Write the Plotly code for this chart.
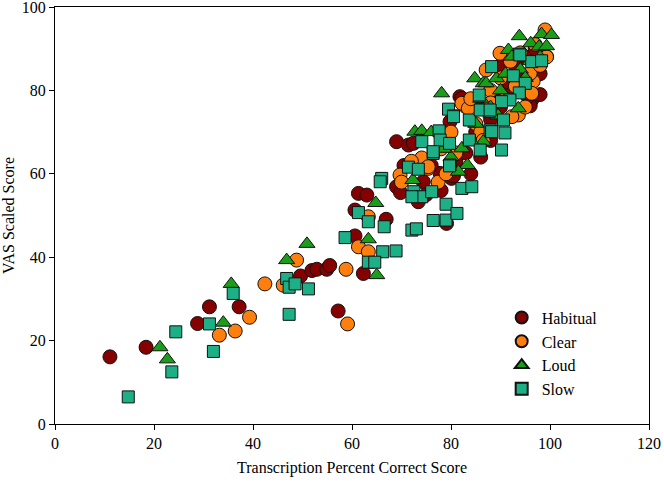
import plotly.graph_objects as go

# Habitual
hab_x = [11.1, 18.4, 28.8, 31.2, 37.2, 49.6, 51.9, 52.9, 54.9, 57.2, 55.5, 60.6, 62.3, 61.3, 63.0, 60.6,
         66.9, 69.0, 69.8, 74.4, 73.4, 77.8, 80.1, 79.1, 81.8, 82.5, 79.8, 69.0, 71.4, 72.4, 82.2, 83.2,
         96.3, 96.0, 99.3, 85.0, 88.0, 90.0, 84.0, 86.0, 92.0, 94.0, 95.0, 97.0, 91.0, 88.0, 76.0, 78.0,
         75.0, 70.5, 81.0, 83.0, 86.0, 89.0, 93.0, 98.0, 98.0, 90.0, 80.5, 95.5]
hab_y = [16.1, 18.4, 24.1, 28.1, 28.1, 35.5, 36.8, 37.1, 37.1, 27.1, 38.0, 45.1, 36.1, 55.3, 54.9, 51.3,
         49.1, 56.9, 55.5, 58.1, 53.3, 60.1, 58.9, 48.1, 78.5, 77.3, 72.5, 67.7, 66.9, 67.3, 78.1, 76.5,
         77.7, 76.3, 88.1, 70.0, 73.0, 76.0, 60.0, 64.0, 80.0, 84.0, 88.0, 90.0, 82.0, 68.0, 62.0, 56.0,
         55.0, 62.0, 63.0, 65.0, 76.0, 79.0, 86.0, 84.0, 79.0, 86.0, 59.5, 78.5]

# Clear
clr_x = [33.2, 36.4, 39.3, 42.4, 46.1, 48.8, 58.8, 59.1, 63.3, 61.3, 63.3, 69.7, 75.4, 77.4, 74.1, 75.4,
         83.0, 87.1, 99.0, 89.9, 96.6, 93.6, 82.2, 83.5, 92.3, 96.3, 96.0, 72.0, 78.0, 80.0, 85.0, 88.0,
         90.0, 92.0, 94.0, 97.0, 98.0, 86.0, 81.0, 79.0, 84.0, 91.0, 95.0, 88.0, 70.0, 99.3, 86.5, 93.0]
clr_y = [21.3, 22.3, 25.6, 33.6, 33.3, 39.3, 37.1, 24.0, 49.7, 42.5, 41.3, 59.7, 61.3, 58.0, 63.8, 61.7,
         76.1, 84.9, 94.5, 88.9, 82.2, 74.1, 76.9, 75.7, 73.7, 79.3, 84.1, 63.0, 66.0, 70.0, 72.0, 80.0,
         83.0, 87.0, 89.0, 91.0, 86.0, 70.0, 65.0, 60.0, 78.0, 78.0, 76.0, 77.0, 58.0, 88.0, 68.0, 81.0]

# Loud
loud_x = [21.2, 22.7, 34.0, 35.6, 46.8, 50.9, 63.3, 64.8, 65.0, 72.3, 78.1, 72.7, 74.1, 82.2, 83.3, 86.5,
          84.8, 86.5, 93.8, 98.3, 100.3, 96.1, 97.8, 99.3, 91.6, 92.3, 93.6, 87.1, 89.2, 80.0, 85.0, 88.0,
          90.0, 94.0, 96.0, 98.0, 76.0, 81.5, 84.0, 91.0, 95.0, 89.5, 86.0, 78.5]
loud_y = [18.4, 15.5, 24.3, 33.6, 39.3, 43.2, 44.3, 53.0, 35.7, 58.5, 79.3, 70.1, 70.3, 66.1, 62.1, 67.7,
          82.9, 81.7, 93.0, 93.5, 93.3, 91.3, 90.5, 90.6, 89.7, 88.1, 75.7, 81.7, 82.9, 64.0, 72.0, 76.0,
          80.0, 85.0, 87.0, 88.0, 70.0, 60.5, 68.0, 84.0, 83.0, 74.0, 78.0, 66.0]

# Slow
slow_x = [14.8, 23.6, 24.4, 31.2, 32.0, 36.0, 46.8, 47.3, 48.5, 51.2, 47.3, 61.3, 63.3, 66.5, 72.1, 73.0,
          58.6, 66.2, 68.9, 63.3, 64.6, 76.4, 79.0, 79.0, 81.2, 66.0, 65.7, 71.4, 73.4, 72.5, 74.1, 76.1,
          72.1, 76.4, 79.8, 79.5, 80.5, 83.7, 77.6, 74.1, 77.8, 79.7, 76.4, 79.7, 83.7, 85.9, 87.9, 85.7,
          87.7, 85.9, 88.2, 93.8, 96.3, 98.3, 92.6, 95.0, 93.8, 91.9, 90.2, 87.9, 90.6, 90.2, 82.2, 84.2,
          88.2, 93.9, 90.9, 80.5]
slow_y = [6.5, 12.5, 22.1, 24.0, 17.4, 31.3, 34.9, 32.8, 33.6, 32.4, 26.3, 50.7, 48.5, 47.3, 46.5, 46.8,
          44.7, 41.3, 41.5, 38.8, 38.8, 48.8, 48.9, 52.7, 50.5, 58.9, 58.1, 61.6, 61.1, 55.7, 54.5, 55.7,
          54.5, 64.9, 62.1, 75.5, 73.9, 72.9, 70.3, 67.7, 68.1, 67.3, 65.3, 61.9, 68.1, 65.7, 70.5, 78.9,
          74.9, 75.3, 85.7, 88.7, 86.9, 87.1, 83.5, 81.7, 79.4, 77.7, 77.3, 75.3, 72.9, 65.7, 56.5, 56.9,
          70.1, 88.5, 69.8, 73.7]

series = [
    ("Habitual", hab_x, hab_y, "circle", "#850000", 14),
    ("Clear", clr_x, clr_y, "circle", "#FF7F0E", 14),
    ("Loud", loud_x, loud_y, "triangle-up", "#1A9E1A", 14),
    ("Slow", slow_x, slow_y, "square", "#1DAF86", 12),
]

fig = go.Figure()
for name, xs, ys, sym, col, sz in series:
    fig.add_trace(go.Scatter(
        x=xs, y=ys, mode="markers", name=name,
        marker=dict(symbol=sym, color=col, size=sz,
                    line=dict(color="#111111", width=1)),
    ))

axis_common = dict(showline=True, linecolor="black", linewidth=1, mirror=True,
                   ticks="outside", ticklen=5, tickcolor="black", showgrid=False,
                   zeroline=False, automargin=False, ticklabeloverflow="allow",
                   tickfont=dict(family="Liberation Serif", size=16, color="black"))

fig.update_layout(
    width=664, height=485,
    margin=dict(l=55, r=15, t=7, b=61),
    paper_bgcolor="white", plot_bgcolor="white",
    font=dict(family="Liberation Serif", size=16, color="black"),
    xaxis=dict(range=[0, 120], tickvals=[0, 20, 40, 60, 80, 100, 120],
               title=dict(text="Transcription Percent Correct Score", standoff=10,
                          font=dict(family="Liberation Serif", size=16)),
               **axis_common),
    yaxis=dict(range=[0, 100], tickvals=[0, 20, 40, 60, 80, 100],
               title=dict(text="VAS Scaled Score", standoff=8,
                          font=dict(family="Liberation Serif", size=16)),
               **axis_common),
    legend=dict(x=0.752, y=0.296, xanchor="left", yanchor="top",
                bgcolor="rgba(0,0,0,0)", font=dict(family="Liberation Serif", size=16),
                itemsizing="constant", tracegroupgap=0),
    showlegend=True,
)

fig.write_html("out.html", config={"displayModeBar": False},
               post_script="document.body.style.margin='0';document.body.style.overflow='hidden';")
